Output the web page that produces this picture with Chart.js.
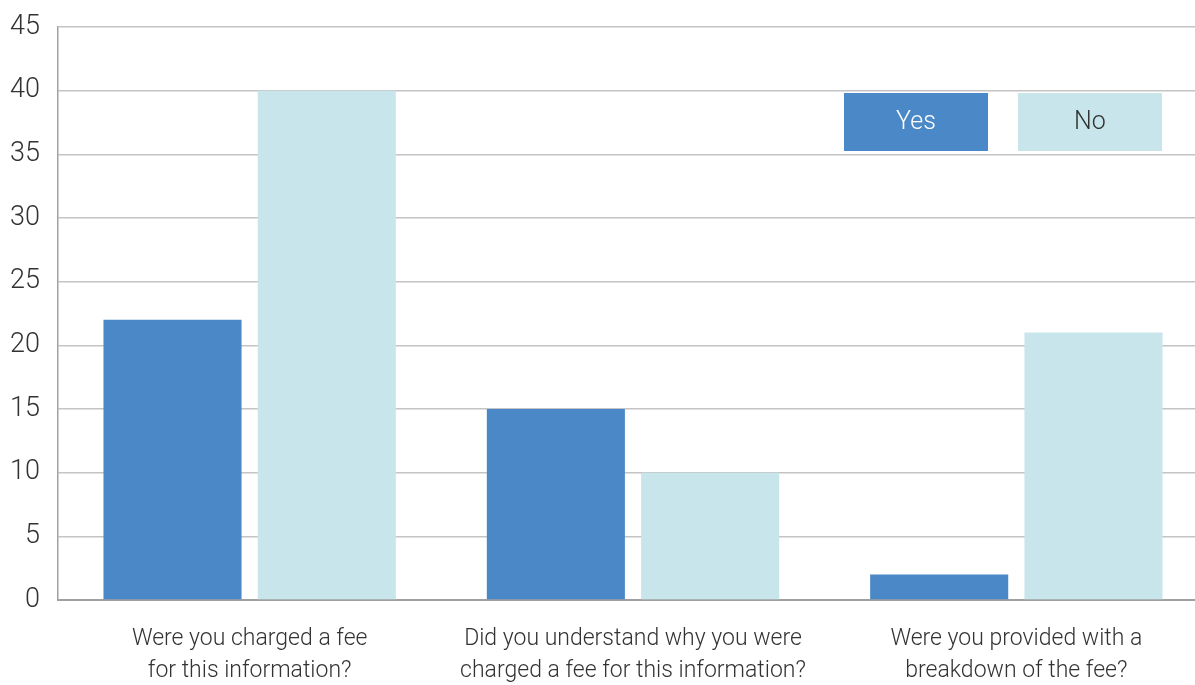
<!DOCTYPE html>
<html lang="en">
<head>
  <meta charset="UTF-8">
  <title>Fee survey</title>
  <script src="https://cdn.jsdelivr.net/npm/chart.js"></script>
  <style>
    * { margin: 0; padding: 0; box-sizing: border-box; }
    html, body { width: 1195px; height: 685px; overflow: hidden; background: #ffffff; }
    .wrap { width: 1210px; height: 685px; }
  </style>
</head>
<body>
  <div class="wrap"><canvas id="feeChart"></canvas></div>
  <script>
    const categories = [
      ['Were you charged a fee', 'for this information?'],
      ['Did you understand why you were', 'charged a fee for this information?'],
      ['Were you provided with a', 'breakdown of the fee?']
    ];
    const yesValues = [22, 15, 2];
    const noValues = [40, 10, 21];
    const seriesNames = ['Yes', 'No'];
    const yMax = 45;
    const yStep = 5;

    const FONT = 'Roboto';
    const yesColor = '#4a88c7';
    const noColor = '#c8e5eb';

    // legend drawn as filled boxes with the label inside
    const boxLegend = {
      id: 'boxLegend',
      afterDraw(chart) {
        const ctx = chart.ctx;
        const boxes = [
          { x: 844, color: yesColor, text: seriesNames[0], textColor: '#ffffff' },
          { x: 1018, color: noColor, text: seriesNames[1], textColor: '#333333' }
        ];
        ctx.save();
        ctx.font = '300 25px ' + FONT;
        ctx.textAlign = 'center';
        ctx.textBaseline = 'middle';
        boxes.forEach(b => {
          ctx.fillStyle = b.color;
          ctx.fillRect(b.x, 93, 144, 58);
          ctx.fillStyle = b.textColor;
          ctx.fillText(b.text, b.x + 72, 123);
        });
        ctx.restore();
      }
    };

    new Chart(document.getElementById('feeChart'), {
      type: 'bar',
      data: {
        labels: categories,
        datasets: [
          { label: seriesNames[0], data: yesValues, backgroundColor: yesColor },
          { label: seriesNames[1], data: noValues, backgroundColor: noColor }
        ]
      },
      options: {
        responsive: true,
        maintainAspectRatio: false,
        animation: false,
        layout: { padding: { top: 27, right: 2, left: 0, bottom: 0 } },
        categoryPercentage: 0.805,
        barPercentage: 0.895,
        plugins: {
          legend: { display: false },
          tooltip: { enabled: false }
        },
        scales: {
          x: {
            grid: { display: false, drawTicks: false },
            border: { color: '#a0a0a0', width: 2 },
            ticks: {
              color: '#333333',
              font: { family: FONT, size: 23, weight: '300', lineHeight: 1.4 },
              padding: 23,
              maxRotation: 0,
              autoSkip: false
            },
            afterFit(axis) { axis.height = 85; }
          },
          y: {
            min: 0,
            max: yMax,
            grid: { color: '#c4c4c4', lineWidth: 1.5, drawTicks: false },
            border: { color: '#a0a0a0', width: 1.5 },
            ticks: {
              stepSize: yStep,
              color: '#333333',
              font: { family: FONT, size: 27, weight: '300' },
              padding: 18
            },
            afterFit(axis) {
              axis.width = 58;
              axis.paddingTop = 0;
              axis.paddingBottom = 0;
            }
          }
        }
      },
      plugins: [boxLegend]
    });
  </script>
</body>
</html>
